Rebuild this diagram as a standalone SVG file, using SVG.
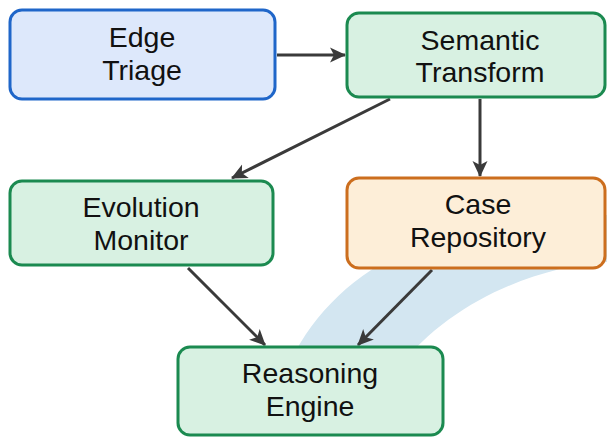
<svg xmlns="http://www.w3.org/2000/svg" width="607" height="437" viewBox="0 0 607 437">
<style>
.box{stroke-width:3}
.blue{fill:#dde8fb;stroke:#1f66c9}
.green{fill:#d8f1e2;stroke:#1b8a50}
.orange{fill:#fdeed8;stroke:#cc6e1e}
text{font-family:"Liberation Sans",Arial,sans-serif;font-size:28.5px;fill:#111;text-anchor:middle}
.edge{stroke:#3a3a3a;stroke-width:3;fill:none;marker-end:url(#ah)}
</style>
<defs>
<marker id="ah" markerWidth="16" markerHeight="16" refX="15" refY="7.5" orient="auto" markerUnits="userSpaceOnUse" viewBox="0 0 16 15">
<path d="M0,0 L16,7.5 L0,15 L4,7.5 z" fill="#3a3a3a"/>
</marker>
</defs>
<rect width="607" height="437" fill="#fff"/>
<path d="M286 370 C318 300 378 250 470 230 L607 215 L607 262 C540 266 450 300 397 370 Z" fill="#d3e6f1"/>
<g id="connectors">
<line class="edge" x1="277" y1="55" x2="345" y2="55"/>
<line class="edge" x1="390" y1="99" x2="232" y2="178"/>
<line class="edge" x1="480" y1="99" x2="480" y2="176"/>
<line class="edge" x1="188" y1="268" x2="265" y2="345"/>
<line class="edge" x1="432" y1="270" x2="358" y2="345"/>
</g>
<g id="edge-triage">
<rect class="box blue" x="10" y="10" width="265" height="89" rx="12"/>
<text x="142" y="47">Edge</text>
<text x="142" y="80">Triage</text>
</g>
<g id="semantic-transform">
<rect class="box green" x="347" y="13" width="258" height="84" rx="12"/>
<text x="480" y="50">Semantic</text>
<text x="480" y="82">Transform</text>
</g>
<g id="evolution-monitor">
<rect class="box green" x="10" y="181" width="263" height="84" rx="12"/>
<text x="141" y="217">Evolution</text>
<text x="141" y="250">Monitor</text>
</g>
<g id="case-repository">
<rect class="box orange" x="347" y="178" width="258" height="90" rx="12"/>
<text x="478" y="214">Case</text>
<text x="478" y="247">Repository</text>
</g>
<g id="reasoning-engine">
<rect class="box green" x="178" y="347" width="265" height="88" rx="12"/>
<text x="310" y="383">Reasoning</text>
<text x="310" y="416">Engine</text>
</g>
</svg>
